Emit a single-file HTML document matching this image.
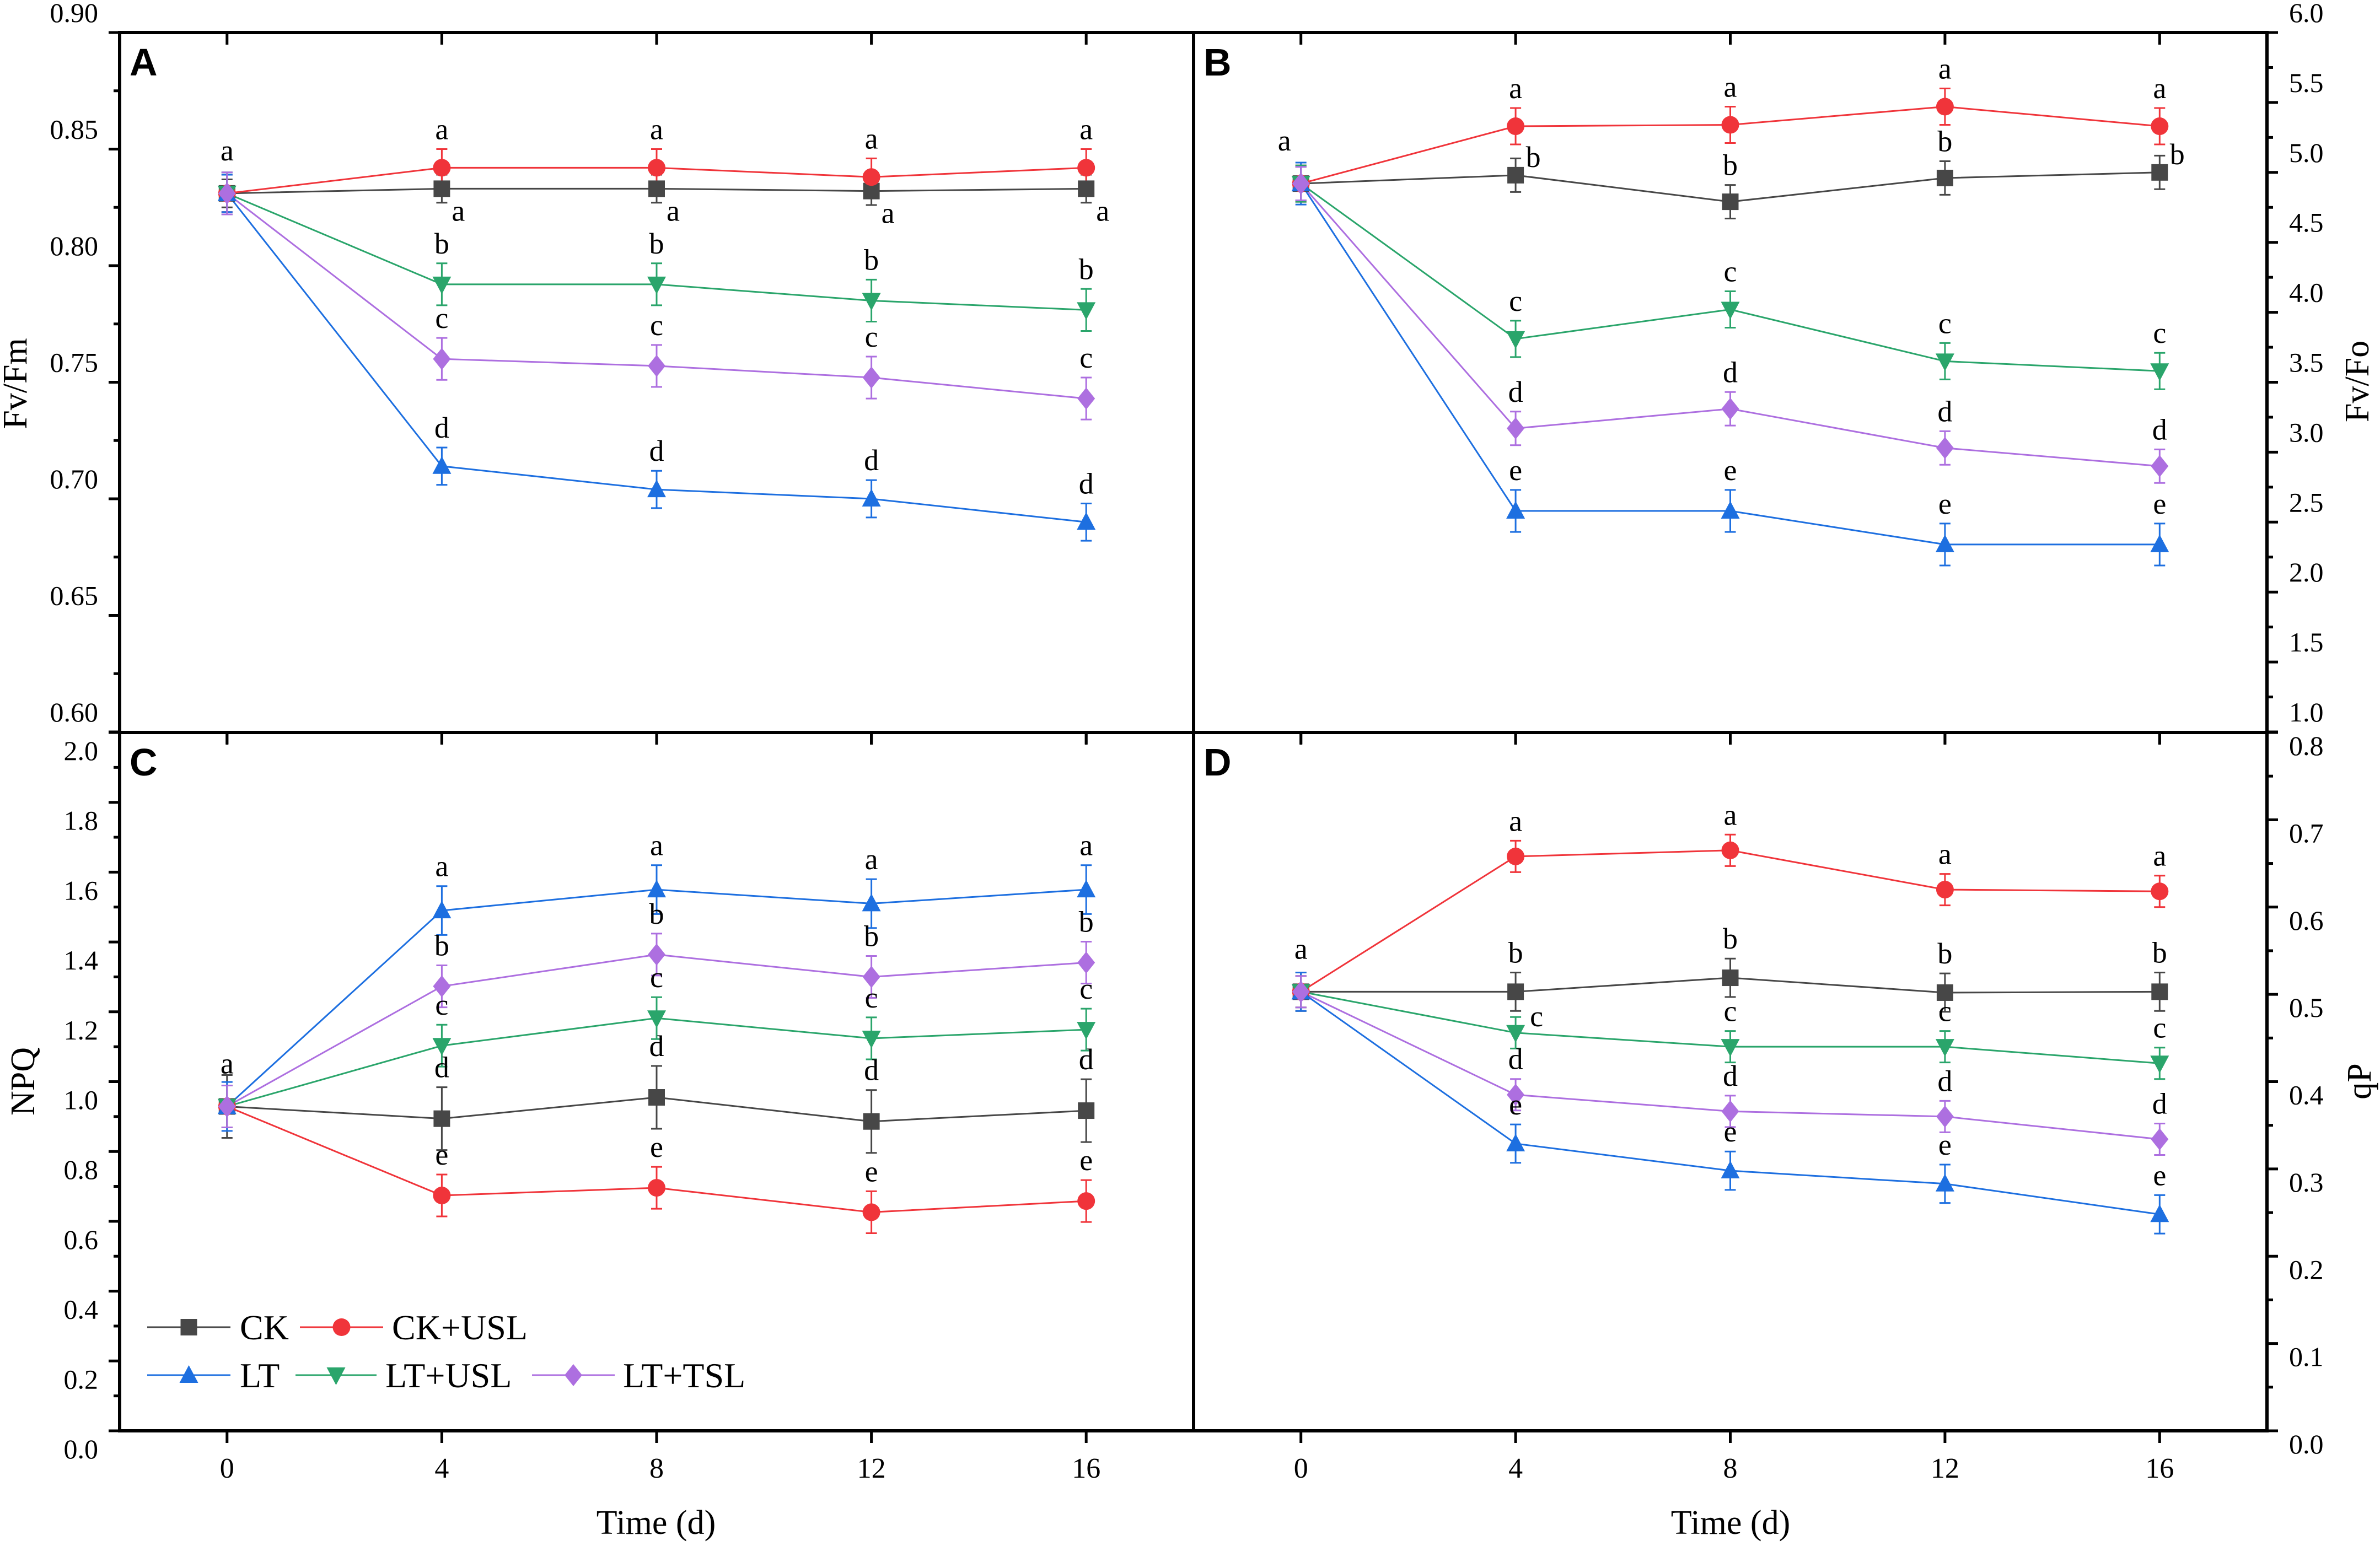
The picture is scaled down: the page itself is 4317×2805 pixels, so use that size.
<!DOCTYPE html>
<html><head><meta charset="utf-8"><style>
html,body{margin:0;padding:0;background:#fff;}
svg{display:block;}
text{font-family:"Liberation Serif",serif;}
</style></head><body>
<svg id="fig" width="4317" height="2805" viewBox="0 0 4317 2805" xmlns="http://www.w3.org/2000/svg"></svg>
<script>
const days = [0, 4, 8, 12, 16];
const seriesNames = ["CK", "CK+USL", "LT", "LT+USL", "LT+TSL"];
// Panel A Fv/Fm
const fvfmCK = [0.831, 0.833, 0.833, 0.832, 0.833];
const fvfmCKUSL = [0.831, 0.842, 0.842, 0.838, 0.842];
const fvfmLT = [0.831, 0.714, 0.704, 0.700, 0.690];
const fvfmLTUSL = [0.831, 0.792, 0.792, 0.785, 0.781];
const fvfmLTTSL = [0.831, 0.760, 0.757, 0.752, 0.743];
const fvfmErr = [0.006, 0.008, 0.008, 0.009, 0.009];
// Panel B Fv/Fo
const fvfoCK = [4.92, 4.98, 4.79, 4.96, 5.00];
const fvfoCKUSL = [4.92, 5.33, 5.34, 5.47, 5.33];
const fvfoLT = [4.92, 2.58, 2.58, 2.34, 2.34];
const fvfoLTUSL = [4.92, 3.81, 4.02, 3.65, 3.58];
const fvfoLTTSL = [4.92, 3.17, 3.31, 3.03, 2.90];
const fvfoErr = [0.12, 0.13, 0.15, 0.13, 0.12];
// Panel C NPQ
const npqCK = [0.929, 0.894, 0.955, 0.886, 0.917];
const npqCKUSL = [0.929, 0.674, 0.696, 0.626, 0.658];
const npqLT = [0.929, 1.49, 1.55, 1.51, 1.55];
const npqLTUSL = [0.929, 1.103, 1.182, 1.124, 1.149];
const npqLTTSL = [0.929, 1.273, 1.364, 1.30, 1.341];
const npqErr = [0.09, 0.06, 0.07, 0.06, 0.06];
// Panel D qP
const qpCK = [0.503, 0.503, 0.519, 0.502, 0.503];
const qpCKUSL = [0.503, 0.658, 0.665, 0.620, 0.618];
const qpLT = [0.503, 0.329, 0.298, 0.283, 0.248];
const qpLTUSL = [0.503, 0.456, 0.440, 0.440, 0.421];
const qpLTTSL = [0.503, 0.385, 0.366, 0.360, 0.334];
const qpErr = [0.022, 0.018, 0.022, 0.018, 0.018];
// significance letters
const lettersA = [["a","a","a","a","a"],["a","a","a","a","a"],["a","d","d","d","d"],["a","b","b","b","b"],["a","c","c","c","c"]];
const lettersB = [["a","b","b","b","b"],["a","a","a","a","a"],["a","e","e","e","e"],["a","c","c","c","c"],["a","d","d","d","d"]];
const lettersC = [["a","d","d","d","d"],["a","e","e","e","e"],["a","a","a","a","a"],["a","c","c","c","c"],["a","b","b","b","b"]];
const lettersD = [["a","b","b","b","b"],["a","a","a","a","a"],["a","e","e","e","e"],["a","c","c","c","c"],["a","d","d","d","d"]];
const ticksA = [0.60,0.65,0.70,0.75,0.80,0.85,0.90];
const ticksB = [1.0,1.5,2.0,2.5,3.0,3.5,4.0,4.5,5.0,5.5,6.0];
const ticksC = [0.0,0.2,0.4,0.6,0.8,1.0,1.2,1.4,1.6,1.8,2.0];
const ticksD = [0.0,0.1,0.2,0.3,0.4,0.5,0.6,0.7,0.8];

const colors = ["#474747","#f0343a","#1d6fe0","#2aa56b","#ad6fe0"];
const markers = ["square","circle","up","down","diamond"];
const NS = "http://www.w3.org/2000/svg";
const svg = document.getElementById("fig");
function el(tag, attrs, parent){ const e=document.createElementNS(NS,tag); for(const k in attrs) e.setAttribute(k,attrs[k]); (parent||svg).appendChild(e); return e; }
function txt(s, attrs, parent){ const e=el("text",attrs,parent); e.textContent=s; return e; }

function marker(g, type, cx, cy, color){
  const r=16; let m;
  if(type==="square") m=el("rect",{x:cx-r+1,y:cy-r+1,width:2*r-2,height:2*r-2,fill:color},g);
  else if(type==="circle") m=el("circle",{cx:cx,cy:cy,r:r,fill:color},g);
  else if(type==="up") m=el("polygon",{points:`${cx},${cy-r-2} ${cx+r+1},${cy+r-2} ${cx-r-1},${cy+r-2}`,fill:color},g);
  else if(type==="down") m=el("polygon",{points:`${cx},${cy+r+2} ${cx+r+1},${cy-r+2} ${cx-r-1},${cy-r+2}`,fill:color},g);
  else m=el("polygon",{points:`${cx},${cy-r-4} ${cx+r},${cy} ${cx},${cy+r+4} ${cx-r},${cy}`,fill:color},g);
  return m;
}

const panels = [
  {id:"A", xl:217, xr:2165, yt:59, yb:1328, min:0.6, max:0.9, data:[fvfmCK,fvfmCKUSL,fvfmLT,fvfmLTUSL,fvfmLTTSL], err:fvfmErr, letters:lettersA, ticks:ticksA, fmt:2, side:"left", labOff:-36},
  {id:"B", xl:2165, xr:4112, yt:59, yb:1328, min:1, max:6, data:[fvfoCK,fvfoCKUSL,fvfoLT,fvfoLTUSL,fvfoLTTSL], err:fvfoErr, letters:lettersB, ticks:ticksB, fmt:1, side:"right", labOff:-36},
  {id:"C", xl:217, xr:2165, yt:1329, yb:2596, min:0, max:2, data:[npqCK,npqCKUSL,npqLT,npqLTUSL,npqLTTSL], err:npqErr, letters:lettersC, ticks:ticksC, fmt:1, side:"left", labOff:33},
  {id:"D", xl:2165, xr:4112, yt:1329, yb:2596, min:0, max:0.8, data:[qpCK,qpCKUSL,qpLT,qpLTUSL,qpLTTSL], err:qpErr, letters:lettersD, ticks:ticksD, fmt:1, side:"right", labOff:24}
];

panels.forEach(p=>{
  const g = el("g",{});
  
  
  const X = t => p.xl + (t+2)/20*(p.xr-p.xl);
  const Y = v => p.yb - (v-p.min)/(p.max-p.min)*(p.yb-p.yt);
  const ax = p.side==="left"?p.xl:p.xr, dir = p.side==="left"?-1:1;
  p.ticks.forEach((v,i)=>{
    const y=Y(v);
    el("line",{x1:ax,y1:y,x2:ax+dir*20,y2:y,stroke:"#000","stroke-width":5},g);
    if(i<p.ticks.length-1){ const ym=(y+Y(p.ticks[i+1]))/2; el("line",{x1:ax,y1:ym,x2:ax+dir*11,y2:ym,stroke:"#000","stroke-width":5},g); }
    const t = txt(v.toFixed(p.fmt),{x: p.side==="left"?178:4152, y:y+p.labOff+17, "font-size":50, "text-anchor": p.side==="left"?"end":"start"},g);
    
    
  });
  days.forEach(d=>{
    const x=X(d);
    el("line",{x1:x,y1:p.yb,x2:x,y2:p.yb+22,stroke:"#000","stroke-width":5},g);
    el("line",{x1:x,y1:p.yt,x2:x,y2:p.yt+22,stroke:"#000","stroke-width":5},g);
    if(p.id==="C"||p.id==="D"){ const t=txt(String(d),{x:x,y:2681,"font-size":52,"text-anchor":"middle"},g);
      
       }
  });
  p.data.forEach((vals,s)=>{
    const sg = el("g",{},g);
    
    
    const pts = vals.map((v,i)=>X(days[i])+","+Y(v)).join(" ");
    el("polyline",{points:pts,fill:"none",stroke:colors[s],"stroke-width":3},sg);
    vals.forEach((v,i)=>{
      const x=X(days[i]), y=Y(v), e=Y(v-p.err[s])-y;
      el("line",{x1:x,y1:y-e,x2:x,y2:y+e,stroke:colors[s],"stroke-width":3},sg);
      el("line",{x1:x-10,y1:y-e,x2:x+10,y2:y-e,stroke:colors[s],"stroke-width":3},sg);
      el("line",{x1:x-10,y1:y+e,x2:x+10,y2:y+e,stroke:colors[s],"stroke-width":3},sg);
    });
  });
  p.data.forEach((vals,s)=>{
    vals.forEach((v,i)=>{
      const m = marker(g, markers[s], X(days[i]), Y(v), colors[s]);
      
      
    });
  });
  p.data.forEach((vals,s)=>{
    vals.forEach((v,i)=>{
      if(i===0 && s!==4) return;
      const x=X(days[i]), y=Y(v), e=Y(v-p.err[s])-y;
      let lx=x, ly=y-e-18;
      if(i===0){ lx = x - (p.id==="B"?30:0); ly = y-60; }
      if(p.id==="A" && s===0){ lx=x+30; ly=y+58; }
      if(p.id==="B" && s===0 && (i===1||i===4)){ lx=x+32; ly=y-15; }
      if(p.id==="D" && s===3 && i===1){ lx=x+38; ly=y-12; }
      const t=txt(p.letters[s][i],{x:lx,y:ly,"font-size":54,"text-anchor":"middle"},g);
      
      
    });
  });
  const pl = txt(p.id,{x:p.xl+18,y:p.yt+78,"font-size":70,"font-weight":"bold",style:"font-family:'Liberation Sans',sans-serif"},g);
  
  
});

const frame = el("g",{stroke:"#000","stroke-width":6,fill:"none"});


el("rect",{x:217,y:59,width:3895,height:2537},frame);
el("line",{x1:217,y1:1329,x2:4112,y2:1329},frame);
el("line",{x1:2165,y1:59,x2:2165,y2:2596},frame);

function title(s,x,y,rot,name){ const t=txt(s,{x:x,y:y,"font-size":62,"text-anchor":"middle",transform:rot?`rotate(-90 ${x} ${y})`:""});   }
title("Fv/Fm",48,696,true,"y-axis-title-fvfm");
title("NPQ",62,1962,true,"y-axis-title-npq");
title("Fv/Fo",4296,692,true,"y-axis-title-fvfo");
title("qP",4300,1962,true,"y-axis-title-qp");
title("Time (d)",1190,2783,false,"x-axis-title-left");
title("Time (d)",3139,2783,false,"x-axis-title-right");

const lg = el("g",{});


const legendItems = [[0,267,418,2408,435],[1,544,695,2408,711],[2,267,418,2495,435],[3,536,683,2495,699],[4,965,1115,2495,1130]];
legendItems.forEach(([s,x1,x2,y,tx])=>{
  const eg = el("g",{},lg);
  
  
  el("line",{x1:x1,y1:y,x2:x2,y2:y,stroke:colors[s],"stroke-width":3},eg);
  marker(eg, markers[s], (x1+x2)/2, y, colors[s]);
  txt(seriesNames[s],{x:tx,y:y+22,"font-size":64},eg);
});
</script>
</body></html>
